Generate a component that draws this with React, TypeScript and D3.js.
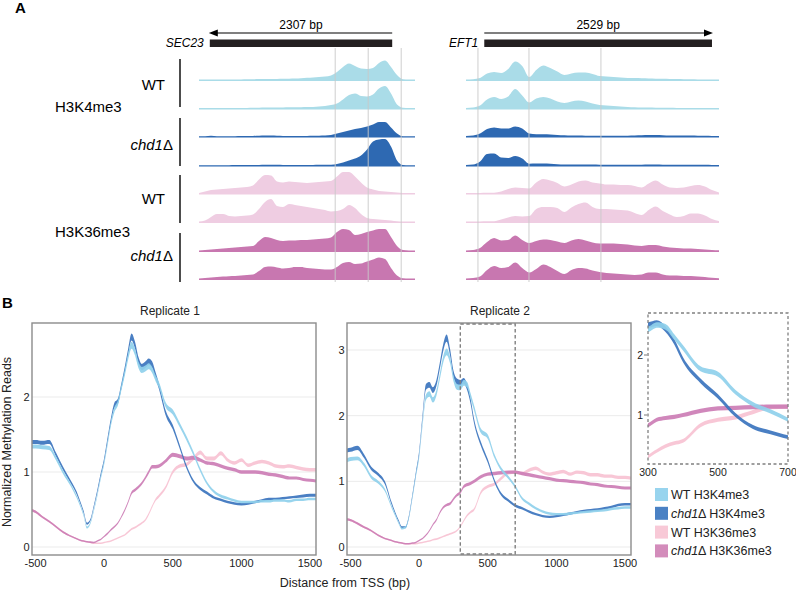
import { useEffect, useRef } from 'react';
import * as d3 from 'd3';

const FONT = '"Liberation Sans", Arial, Helvetica, sans-serif';

// ---------- Panel A: browser tracks, binned coverage (37 bins per locus) ----------
const secWtK4a = [0.5, 0.5, 0.5, 0.5, 0.5, 0.5, 0.5, 0.6, 0.7, 0.8, 0.9, 1, 1, 1.1, 1.2, 1.3, 1.5, 1.8, 2.2, 2.6, 3, 3.5, 4.5, 8, 13, 16.5, 14, 11.5, 11, 12, 17, 19.5, 13, 5, 0.8, 0.5, 0.5];
const secWtK4b = [0.5, 0.5, 0.5, 0.5, 0.5, 0.5, 0.5, 0.6, 0.6, 0.7, 0.8, 0.9, 1, 1, 1.1, 1.2, 1.2, 1.3, 1.4, 1.5, 2, 2.5, 3.5, 5, 9, 13.5, 15, 12.5, 12, 14, 20, 22.5, 15, 4, 0.8, 0.5, 0.5];
const secChdK4a = [0.3, 0.3, 0.8, 0.3, 0.3, 0.3, 0.3, 0.4, 0.5, 0.6, 0.7, 0.9, 1, 0.8, 0.6, 0.5, 0.5, 0.5, 0.6, 0.7, 0.8, 1, 1.5, 3, 4.5, 6, 7.5, 8.5, 10, 12, 14.5, 14.5, 9, 3, 0.3, 0.3, 0.3];
const secChdK4b = [0.3, 0.3, 0.3, 0.3, 0.3, 0.3, 0.4, 0.4, 0.5, 0.5, 0.6, 0.8, 0.8, 0.7, 0.6, 0.5, 0.5, 0.5, 0.6, 0.6, 0.7, 0.8, 0.8, 1.5, 3, 5, 7, 10, 16, 24, 26, 26.5, 19, 5, 0.5, 0.3, 0.3];
const secWtK36a = [0.5, 2, 3.5, 4, 4.5, 5, 5.5, 6, 6.5, 8, 14, 18.5, 18, 12, 11, 12, 11.5, 11, 10.5, 11, 11.5, 12, 12.5, 17, 21.5, 21.5, 17, 11, 6, 4, 2.5, 2, 1.5, 1, 0.5, 0.5, 0.5];
const secWtK36b = [0.5, 1.5, 5, 8, 8, 6, 5.5, 6, 6.5, 7.5, 13, 20, 23, 16, 15, 18, 17, 16, 15, 14, 13, 12, 10.5, 11, 13, 17, 14, 8, 4, 3, 2.5, 2, 1.5, 0.7, 0.5, 0.5, 0.5];
const secChdK36a = [0.5, 1, 1.5, 2, 2.5, 3, 3.5, 4, 4.5, 5, 10, 14, 13, 11, 10, 10.5, 10.5, 11, 11, 11.5, 12, 12.5, 13.5, 19, 22, 21, 16, 17, 19, 20.5, 22, 22, 14, 5, 1, 0.5, 0.5];
const secChdK36b = [0.5, 1, 1.5, 2, 2.5, 2.8, 3, 3.5, 4, 4.5, 8, 12, 12.5, 11.5, 10.5, 11, 12, 12, 11, 10.5, 10, 9.5, 9.5, 12, 16, 17, 15, 15.5, 17.5, 19.5, 21.5, 20, 11, 3.5, 0.8, 0.5, 0.5];

const eftWtK4a = [0.5, 0.8, 2, 6.5, 8, 7, 11, 18.5, 14, 3, 10, 14.5, 12, 8.5, 5, 6.5, 7.5, 7.5, 6, 4, 3.5, 3, 2.5, 2, 2, 1.7, 1.5, 1.3, 1.2, 1, 1, 0.8, 0.7, 0.6, 0.5, 0.5, 0.5];
const eftWtK4b = [0.5, 1, 3, 9, 11.5, 9.5, 12, 19.5, 13, 6, 10, 11.5, 10, 7, 5.5, 7, 8, 7, 5, 3.5, 3, 2.5, 2, 1.5, 1.2, 1, 1, 0.8, 0.8, 0.7, 0.6, 0.6, 0.5, 0.5, 0.5, 0.5, 0.5];
const eftChdK4a = [0.5, 1, 3, 7.5, 9, 8, 8, 10, 8, 3, 2.3, 2.3, 2, 1.5, 1.2, 1, 1, 0.8, 0.8, 0.8, 0.8, 0.8, 0.8, 0.8, 1, 1.2, 1.5, 1.5, 1.2, 1, 1, 1, 1, 0.8, 0.8, 0.6, 0.5];
const eftChdK4b = [0.5, 1, 4, 11.5, 12, 8, 7.5, 9.5, 7, 1.8, 2, 2, 1.8, 1.3, 1, 1, 1, 1, 0.9, 0.8, 0.8, 0.8, 0.8, 0.8, 0.8, 0.8, 1, 1, 0.8, 0.8, 0.8, 0.8, 0.8, 0.8, 0.8, 0.6, 0.5];
const eftWtK36a = [0.5, 0.5, 0.6, 0.7, 0.8, 2, 4.5, 6, 5.5, 5, 11, 14.5, 13, 10.5, 7, 9, 12, 13, 11, 10, 9, 9, 8.5, 8.5, 7.5, 6, 10, 13, 9, 6, 5.5, 6, 7.5, 8.5, 7, 3.5, 1];
const eftWtK36b = [0.5, 0.5, 0.6, 0.7, 0.8, 2.5, 4.5, 6, 5.5, 6, 13, 15, 15, 14, 10, 14.5, 18, 19.5, 15, 13, 13, 12.5, 12, 11.5, 9, 7, 12, 15.5, 11, 7.5, 5, 6, 8.5, 8.5, 6.5, 3, 1];
const eftChdK36a = [0.5, 1, 3, 9, 13, 10.5, 11, 15.5, 11, 8, 10, 11.5, 11, 9.5, 8, 10.5, 12, 10.5, 8.5, 7.5, 7.5, 7.5, 7, 6.5, 5.5, 5, 6, 6, 4.5, 3.5, 3, 2.5, 2.5, 2, 1.5, 1, 0.7];
const eftChdK36b = [0.5, 1, 2.5, 9, 13, 11, 12, 16.5, 11, 6.5, 10, 14.5, 12, 8, 5, 9, 11, 10.5, 8.5, 7, 6, 5.5, 5, 4.5, 4, 4.5, 6.5, 6.5, 4.5, 3.5, 3.5, 3, 3, 2.5, 2, 1.2, 0.7];

const secTracks = [secWtK4a, secWtK4b, secChdK4a, secChdK4b, secWtK36a, secWtK36b, secChdK36a, secChdK36b];
const eftTracks = [eftWtK4a, eftWtK4b, eftChdK4a, eftChdK4b, eftWtK36a, eftWtK36b, eftChdK36a, eftChdK36b];
const trackColors = ['#aadce8', '#aadce8', '#2e69b2', '#2e69b2', '#efcde2', '#efcde2', '#c877b0', '#c877b0'];

// gene bodies and guide lines, in bin units
const secGene = { name: 'SEC23', size: '2307 bp', from: 32.2, to: 1.8 };
const eftGene = { name: 'EFT1', size: '2529 bp', from: 2.6, to: 35 };
const secMarks = [22.7, 28.2, 33.7];
const eftMarks = [1.7, 8.96, 19.2];

// ---------- Panel B: metagene profiles ----------
const distance = [-525, -500, -450, -400, -350, -300, -250, -200, -175, -150, -125, -100, -75, -50, -25, 0, 25, 50, 75, 100, 125, 150, 175, 200, 225, 250, 275, 300, 325, 350, 375, 400, 450, 500, 550, 600, 650, 700, 750, 800, 850, 900, 950, 1000, 1050, 1100, 1150, 1200, 1250, 1300, 1350, 1400, 1450, 1500, 1545];

const rep1WtK4 = [1.34, 1.34, 1.33, 1.32, 1.18, 1.0, 0.85, 0.67, 0.56, 0.43, 0.26, 0.32, 0.49, 0.69, 0.92, 1.12, 1.38, 1.65, 1.83, 1.92, 2.12, 2.32, 2.54, 2.69, 2.6, 2.43, 2.36, 2.38, 2.41, 2.36, 2.25, 2.16, 1.89, 1.8, 1.63, 1.45, 1.25, 1.03, 0.85, 0.74, 0.68, 0.65, 0.62, 0.6, 0.6, 0.6, 0.61, 0.61, 0.62, 0.62, 0.61, 0.63, 0.63, 0.64, 0.64];
const rep1ChdK4 = [1.4, 1.4, 1.39, 1.4, 1.23, 1.05, 0.89, 0.72, 0.6, 0.47, 0.31, 0.36, 0.54, 0.74, 0.96, 1.16, 1.43, 1.69, 1.89, 1.94, 2.14, 2.36, 2.6, 2.8, 2.69, 2.49, 2.4, 2.43, 2.47, 2.43, 2.29, 2.14, 1.78, 1.6, 1.34, 1.07, 0.88, 0.78, 0.72, 0.66, 0.63, 0.6, 0.58, 0.57, 0.58, 0.6, 0.62, 0.64, 0.64, 0.65, 0.66, 0.67, 0.68, 0.69, 0.69];
const rep1WtK36 = [0.49, 0.47, 0.4, 0.34, 0.27, 0.2, 0.15, 0.11, 0.09, 0.08, 0.07, 0.06, 0.05, 0.05, 0.05, 0.06, 0.07, 0.08, 0.1, 0.12, 0.14, 0.16, 0.2, 0.24, 0.26, 0.29, 0.32, 0.36, 0.44, 0.54, 0.63, 0.68, 0.8, 1.0, 1.08, 1.1, 1.18, 1.26, 1.18, 1.18, 1.25, 1.16, 1.12, 1.16, 1.09, 1.12, 1.14, 1.12, 1.08, 1.07, 1.08, 1.06, 1.04, 1.03, 1.03];
const rep1ChdK36 = [0.49, 0.47, 0.4, 0.34, 0.27, 0.2, 0.15, 0.11, 0.09, 0.08, 0.07, 0.065, 0.06, 0.08, 0.1, 0.14, 0.18, 0.23, 0.27, 0.32, 0.4, 0.49, 0.6, 0.72, 0.76, 0.8, 0.85, 0.92, 1.0, 1.07, 1.07, 1.08, 1.15, 1.23, 1.21, 1.18, 1.19, 1.16, 1.12, 1.11, 1.08, 1.05, 1.03, 1.0, 1.0, 1.0, 0.99, 0.97, 0.96, 0.94, 0.92, 0.92, 0.9, 0.89, 0.88];

const rep2WtK4 = [1.32, 1.34, 1.35, 1.25, 1.07, 0.99, 0.87, 0.61, 0.49, 0.37, 0.28, 0.3, 0.44, 0.74, 1.07, 1.38, 1.88, 2.28, 2.33, 2.24, 2.34, 2.59, 2.85, 2.97, 2.85, 2.57, 2.44, 2.43, 2.5, 2.47, 2.3, 2.12, 1.77, 1.68, 1.38, 1.18, 1.06, 0.92, 0.74, 0.66, 0.59, 0.54, 0.51, 0.5, 0.5, 0.51, 0.52, 0.53, 0.54, 0.55, 0.56, 0.58, 0.59, 0.6, 0.6];
const rep2ChdK4 = [1.47, 1.48, 1.51, 1.38, 1.2, 1.11, 0.98, 0.66, 0.52, 0.4, 0.3, 0.3, 0.46, 0.77, 1.1, 1.43, 1.98, 2.44, 2.47, 2.39, 2.49, 2.75, 3.03, 3.18, 2.97, 2.64, 2.52, 2.5, 2.53, 2.43, 2.22, 1.92, 1.57, 1.31, 1.0, 0.8, 0.71, 0.63, 0.59, 0.54, 0.5, 0.47, 0.46, 0.47, 0.49, 0.51, 0.53, 0.55, 0.56, 0.57, 0.59, 0.61, 0.64, 0.65, 0.65];
const rep2WtK36 = [0.42, 0.41, 0.36, 0.3, 0.25, 0.18, 0.13, 0.1, 0.08, 0.07, 0.06, 0.05, 0.05, 0.05, 0.05, 0.06, 0.07, 0.08, 0.09, 0.11, 0.12, 0.14, 0.16, 0.18, 0.2, 0.22, 0.25, 0.31, 0.4, 0.48, 0.53, 0.57, 0.83, 0.92, 0.96, 1.05, 1.13, 1.14, 1.12, 1.17, 1.2, 1.14, 1.11, 1.13, 1.15, 1.11, 1.14, 1.13, 1.1, 1.1, 1.08, 1.08, 1.06, 1.06, 1.05];
const rep2ChdK36 = [0.42, 0.41, 0.36, 0.3, 0.25, 0.18, 0.13, 0.1, 0.08, 0.07, 0.06, 0.05, 0.05, 0.06, 0.07, 0.1, 0.13, 0.18, 0.25, 0.34, 0.41, 0.52, 0.6, 0.64, 0.66, 0.73, 0.79, 0.83, 0.92, 0.95, 0.97, 1.0, 1.07, 1.11, 1.12, 1.13, 1.14, 1.14, 1.12, 1.1, 1.08, 1.06, 1.04, 1.02, 1.01, 1.0, 0.99, 0.98, 0.96, 0.95, 0.93, 0.92, 0.91, 0.9, 0.9];

const seriesNames = ['WT H3K4me3', 'chd1Δ H3K4me3', 'WT H3K36me3', 'chd1Δ H3K36me3'];
const lineColors = ['#8fd0eb', '#3b74be', '#f7c2d2', '#cc7db5'];
const legendColors = ['#98d4ee', '#4a81c4', '#f8c9d7', '#d38cbb'];
const xTicks = [-500, 0, 500, 1000, 1500];
const rep1YTicks = [0, 1, 2];
const rep2YTicks = [0, 1, 2, 3];
const zoomWindow = [300, 700];
const insetYTicks = [1, 2];

// italic gene name, upright delta
function labelText(sel: any, name: string) {
  if (name.startsWith('chd1')) {
    sel.append('tspan').attr('font-style', 'italic').text('chd1');
    sel.append('tspan').text(name.slice(4));
  } else {
    sel.text(name);
  }
}

function drawLocus(svg: any, tracks: number[][], gene: any, marks: number[], range: number[]) {
  const baselines = [80, 108.5, 136.5, 165.5, 193.5, 222, 251, 279];
  const x = d3.scaleLinear().domain([0, tracks[0].length - 1]).range(range);
  const h = d3.scaleLinear().domain([0, 30]).range([0, 30]);
  const g = svg.append('g');

  tracks.forEach((vals, i) => {
    const base = baselines[i];
    const area = d3
      .area<number>()
      .x((_, j) => x(j))
      .y0(base + 1)
      .y1((d) => base - h(d))
      .curve(d3.curveMonotoneX);
    g.append('path').attr('d', area(vals)).attr('fill', trackColors[i]);
  });

  marks.forEach((m) => {
    g.append('line')
      .attr('x1', x(m)).attr('x2', x(m))
      .attr('y1', 48).attr('y2', 282)
      .attr('stroke', '#c8c8c8').attr('stroke-width', 0.9);
  });

  const x0 = x(gene.from);
  const x1 = x(gene.to);
  const dir = Math.sign(x1 - x0);
  g.append('rect')
    .attr('x', Math.min(x0, x1)).attr('y', 39.5)
    .attr('width', Math.abs(x1 - x0)).attr('height', 7.5)
    .attr('fill', '#231f20');
  g.append('line')
    .attr('x1', x0).attr('x2', x1 - dir * 6)
    .attr('y1', 33).attr('y2', 33)
    .attr('stroke', '#000').attr('stroke-width', 1.2);
  g.append('path')
    .attr('d', `M${x1 + dir * 1},33 L${x1 - dir * 8},29.6 L${x1 - dir * 8},36.4 Z`)
    .attr('fill', '#000');
  g.append('text')
    .attr('x', (x0 + x1) / 2).attr('y', 29)
    .attr('text-anchor', 'middle').attr('font-size', 12)
    .text(gene.size);
  g.append('text')
    .attr('x', Math.min(x0, x1) - 6).attr('y', 47)
    .attr('text-anchor', 'end').attr('font-size', 12).attr('font-style', 'italic')
    .text(gene.name);
}

function drawPanelA(svg: any) {
  svg.append('text').attr('x', 15).attr('y', 13).attr('font-size', 15).attr('font-weight', 'bold').text('A');

  drawLocus(svg, secTracks, secGene, secMarks, [199, 415]);
  drawLocus(svg, eftTracks, eftGene, eftMarks, [466, 719]);

  // sample brackets and labels
  const groups = [
    { name: 'WT', y0: 59, y1: 107, ty: 90 },
    { name: 'chd1Δ', y0: 118, y1: 166, ty: 150 },
    { name: 'WT', y0: 175, y1: 223, ty: 204 },
    { name: 'chd1Δ', y0: 233, y1: 282, ty: 261 },
  ];
  groups.forEach((gr) => {
    svg.append('line')
      .attr('x1', 180).attr('x2', 180).attr('y1', gr.y0).attr('y2', gr.y1)
      .attr('stroke', '#000').attr('stroke-width', 1.4);
    const t = svg.append('text')
      .attr('x', gr.name === 'WT' ? 165 : 173).attr('y', gr.ty)
      .attr('text-anchor', 'end').attr('font-size', 15);
    labelText(t, gr.name);
  });
  svg.append('text').attr('x', 55).attr('y', 112).attr('font-size', 15).text('H3K4me3');
  svg.append('text').attr('x', 55).attr('y', 237).attr('font-size', 15).text('H3K36me3');
}

function drawProfile(svg: any, o: any) {
  const [fx0, fx1, fy0, fy1] = o.frame;
  const g = svg.append('g');
  const clipId = o.clipId;
  g.append('clipPath').attr('id', clipId)
    .append('rect').attr('x', fx0).attr('y', fy0).attr('width', fx1 - fx0).attr('height', fy1 - fy0);

  if (o.grid) {
    o.yTicks.forEach((t: number) => {
      g.append('line')
        .attr('x1', fx0).attr('x2', fx1).attr('y1', o.y(t)).attr('y2', o.y(t))
        .attr('stroke', '#ebebeb').attr('stroke-width', 1);
    });
  }

  const plot = g.append('g').attr('clip-path', `url(#${clipId})`);
  const order = [2, 3, 1, 0];
  order.forEach((k) => {
    const vals = o.series[k];
    const pts = distance.map((d, i) => [d, vals[i]] as [number, number]);
    const band = d3
      .area<[number, number]>()
      .x((p) => o.x(p[0]))
      .y0((p) => o.y(p[1]) + o.hw(p[1]))
      .y1((p) => o.y(p[1]) - o.hw(p[1]))
      .curve(d3.curveMonotoneX);
    plot.append('path').attr('d', band(pts)).attr('fill', lineColors[k]).attr('fill-opacity', 0.92);
  });

  return g;
}

function drawPanelB(svg: any) {
  svg.append('text').attr('x', 2).attr('y', 308).attr('font-size', 15).attr('font-weight', 'bold').text('B');

  const tickFmt = d3.format('d');

  // Replicate 1
  const x1 = d3.scaleLinear().domain([-500, 1500]).range([35.5, 310]);
  const y1 = d3.scaleLinear().domain([0, 2]).range([547, 397]);
  const g1 = drawProfile(svg, {
    frame: [32, 316, 323, 555], x: x1, y: y1, yTicks: rep1YTicks, grid: true,
    series: [rep1WtK4, rep1ChdK4, rep1WtK36, rep1ChdK36], clipId: 'clip-rep1',
    hw: (v: number) => 0.7 + 1.0 * v,
  });
  // Replicate 2
  const x2 = d3.scaleLinear().domain([-500, 1500]).range([350.5, 625]);
  const y2 = d3.scaleLinear().domain([0, 3]).range([547, 350]);
  const g2 = drawProfile(svg, {
    frame: [347, 631, 323, 555], x: x2, y: y2, yTicks: rep2YTicks, grid: true,
    series: [rep2WtK4, rep2ChdK4, rep2WtK36, rep2ChdK36], clipId: 'clip-rep2',
    hw: (v: number) => 0.7 + 0.9 * v,
  });

  const panels = [
    { g: g1, x: x1, y: y1, yt: rep1YTicks, frame: [32, 316, 323, 555], title: 'Replicate 1', tx: 170 },
    { g: g2, x: x2, y: y2, yt: rep2YTicks, frame: [347, 631, 323, 555], title: 'Replicate 2', tx: 500 },
  ];
  panels.forEach((p) => {
    const [fx0, fx1, fy0, fy1] = p.frame;
    p.g.append('rect')
      .attr('x', fx0).attr('y', fy0).attr('width', fx1 - fx0).attr('height', fy1 - fy0)
      .attr('fill', 'none').attr('stroke', '#8c8c8c').attr('stroke-width', 1.4);
    p.yt.forEach((t: number) => {
      p.g.append('text')
        .attr('x', fx0 - 2.5).attr('y', p.y(t)).attr('dy', '0.35em')
        .attr('text-anchor', 'end').attr('font-size', 11).attr('fill', '#222')
        .text(tickFmt(t));
    });
    xTicks.forEach((t) => {
      p.g.append('text')
        .attr('x', p.x(t)).attr('y', 567)
        .attr('text-anchor', 'middle').attr('font-size', 11).attr('fill', '#222')
        .text(t < 0 ? `-${Math.abs(t)}` : tickFmt(t));
    });
    p.g.append('text')
      .attr('x', p.tx).attr('y', 315)
      .attr('text-anchor', 'middle').attr('font-size', 12).attr('fill', '#222')
      .text(p.title);
  });

  // zoom window marker on replicate 2
  svg.append('rect')
    .attr('x', x2(zoomWindow[0])).attr('y', 324)
    .attr('width', x2(zoomWindow[1]) - x2(zoomWindow[0])).attr('height', 230)
    .attr('fill', 'none').attr('stroke', '#808080').attr('stroke-width', 1.4)
    .attr('stroke-dasharray', '3.5,2.5');

  // axis titles
  svg.append('text')
    .attr('x', 345).attr('y', 587).attr('text-anchor', 'middle').attr('font-size', 12.5).attr('fill', '#222')
    .text('Distance from TSS (bp)');
  svg.append('text')
    .attr('transform', 'translate(11,442) rotate(-90)')
    .attr('text-anchor', 'middle').attr('font-size', 12.5).attr('fill', '#222')
    .text('Normalized Methylation Reads');

  // inset (replicate 2, zoomed)
  const xi = d3.scaleLinear().domain(zoomWindow).range([648, 788]);
  const yi = d3.scaleLinear().domain([1, 2]).range([415, 355]);
  const gi = drawProfile(svg, {
    frame: [648, 788, 313, 464], x: xi, y: yi, yTicks: insetYTicks, grid: false,
    series: [rep2WtK4, rep2ChdK4, rep2WtK36, rep2ChdK36], clipId: 'clip-inset',
    hw: (v: number) => 1.6 + 0.5 * v,
  });
  gi.append('rect')
    .attr('x', 648).attr('y', 313).attr('width', 140).attr('height', 151)
    .attr('fill', 'none').attr('stroke', '#808080').attr('stroke-width', 1.3)
    .attr('stroke-dasharray', '3,2.5');
  insetYTicks.forEach((t) => {
    gi.append('line')
      .attr('x1', 644).attr('x2', 647).attr('y1', yi(t)).attr('y2', yi(t))
      .attr('stroke', '#555').attr('stroke-width', 0.8);
    gi.append('text')
      .attr('x', 643).attr('y', yi(t)).attr('dy', '0.35em')
      .attr('text-anchor', 'end').attr('font-size', 10.5).attr('fill', '#222')
      .text(tickFmt(t));
  });
  [zoomWindow[0], 500, zoomWindow[1]].forEach((t) => {
    gi.append('text')
      .attr('x', xi(t)).attr('y', 476)
      .attr('text-anchor', 'middle').attr('font-size', 10.5).attr('fill', '#222')
      .text(tickFmt(t));
  });

  // legend
  const lg = svg.append('g').attr('transform', 'translate(655,488)');
  seriesNames.forEach((name, i) => {
    const row = lg.append('g').attr('transform', `translate(0,${i * 18.8})`);
    row.append('rect').attr('width', 13).attr('height', 13).attr('fill', legendColors[i]);
    const t = row.append('text').attr('x', 16).attr('y', 11).attr('font-size', 12.5).attr('fill', '#222');
    labelText(t, name);
  });
}

export default function App() {
  const svgRef = useRef<SVGSVGElement>(null);

  useEffect(() => {
    if (!svgRef.current) return;
    const svg = d3.select(svgRef.current);
    svg.selectAll('*').remove();
    svg.attr('width', 796).attr('height', 591).style('font-family', FONT);
    svg.append('rect').attr('width', 796).attr('height', 591).attr('fill', '#fff');

    drawPanelA(svg);
    drawPanelB(svg);
  }, []);

  return <svg ref={svgRef} style={{ position: 'absolute', left: 0, top: 0, display: 'block' }} />;
}
